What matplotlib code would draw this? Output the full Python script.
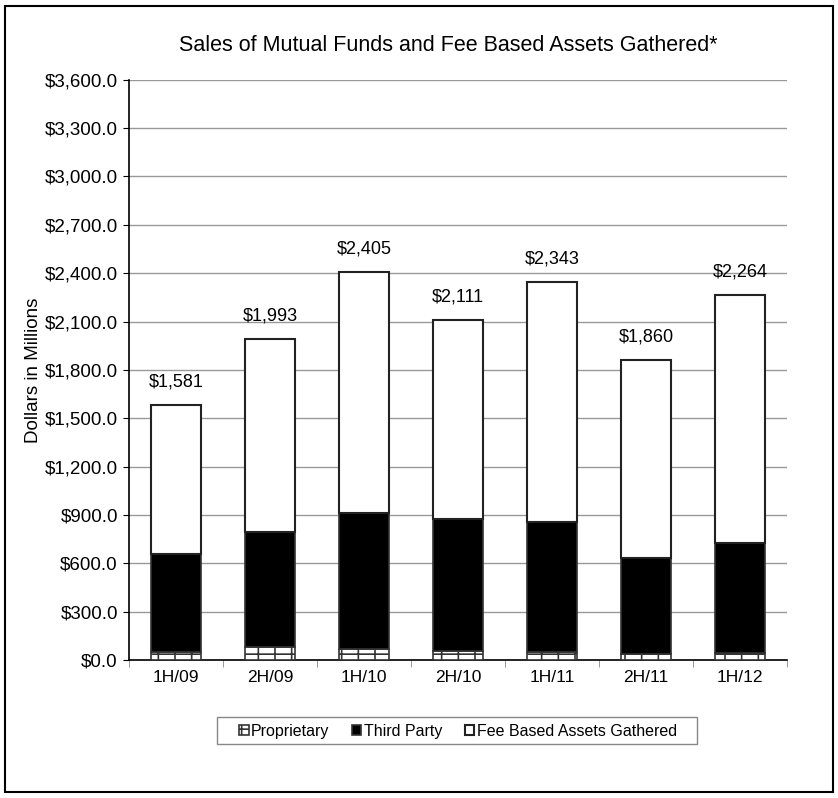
import matplotlib.pyplot as plt
import matplotlib.patches as mpatches
import numpy as np

plt.rcParams['font.family'] = ['Liberation Sans', 'DejaVu Sans']
plt.rcParams['hatch.linewidth'] = 1.2

# Data ---------------------------------------------------
periods = ['1H/09', '2H/09', '1H/10', '2H/10', '1H/11', '2H/11', '1H/12']
proprietary = [52, 83, 68, 56, 52, 37, 45]
third_party = [604, 713, 846, 817, 805, 594, 679]
fee_based = [925, 1197, 1491, 1238, 1486, 1229, 1540]
totals = [1581, 1993, 2405, 2111, 2343, 1860, 2264]

# Figure --------------------------------------------------
W, H = 838, 798
fig = plt.figure(figsize=(W / 100, H / 100), dpi=100)
fig.patches.append(mpatches.Rectangle((0.006, 0.007), 0.988, 0.986, transform=fig.transFigure,
                                      fill=False, edgecolor='black', linewidth=1.5))
ax = fig.add_axes([0.154, 0.173, 0.785, 0.727])

x = np.arange(len(periods))
w = 0.53
bottom2 = np.array(proprietary)
bottom3 = bottom2 + np.array(third_party)

ax.bar(x, proprietary, w, color='white', edgecolor='#333333', hatch='-+', linewidth=1.2,
       label='Proprietary', zorder=3)
ax.bar(x, third_party, w, bottom=bottom2, color='black', edgecolor='#333333', linewidth=1.2,
       label='Third Party', zorder=3)
ax.bar(x, fee_based, w, bottom=bottom3, color='white', edgecolor='#222222', linewidth=1.5,
       label='Fee Based Assets Gathered', zorder=3)

for xi, t in zip(x, totals):
    ax.text(xi, t + 90, '${:,}'.format(t), ha='center', va='bottom', fontsize=13)

ax.set_ylim(0, 3600)
ax.set_xlim(-0.5, len(periods) - 0.5)
ax.set_yticks(np.arange(0, 3601, 300))
ax.set_yticklabels(['${:,.1f}'.format(v) for v in np.arange(0, 3601, 300)], fontsize=13.5)
ax.set_xticks(x)
ax.set_xticklabels(periods, fontsize=12.5)
ax.set_xticks(np.arange(-0.5, len(periods), 1), minor=True)
ax.tick_params(axis='x', which='major', length=0, pad=7)
ax.tick_params(axis='x', which='minor', length=5, color='#888888')
ax.tick_params(axis='y', length=4, pad=4)
ax.grid(axis='y', color='#999999', linewidth=1, zorder=0)
for s in ['top', 'right']:
    ax.spines[s].set_visible(False)
ax.spines['left'].set_linewidth(1.2)
ax.spines['bottom'].set_linewidth(1.2)

ax.set_ylabel('Dollars in Millions', fontsize=13.5, labelpad=2)
fig.text(0.535, 0.943, 'Sales of Mutual Funds and Fee Based Assets Gathered*',
         ha='center', va='center', fontsize=15.5)

# legend entries without frame, box drawn a bit wider around them
ax.legend(loc='upper center', bbox_to_anchor=(0.5, -0.098), ncol=3, fontsize=11.5,
          frameon=False, handlelength=0.6, handleheight=0.6, handletextpad=0.15,
          columnspacing=1.4, borderpad=0.45, borderaxespad=0)
fig.patches.append(mpatches.Rectangle((217 / W, 1 - 744 / H), 480 / W, 27 / H,
                                      transform=fig.transFigure, fill=False,
                                      edgecolor='#888888', linewidth=1))

fig.savefig('out.png', dpi=100)
